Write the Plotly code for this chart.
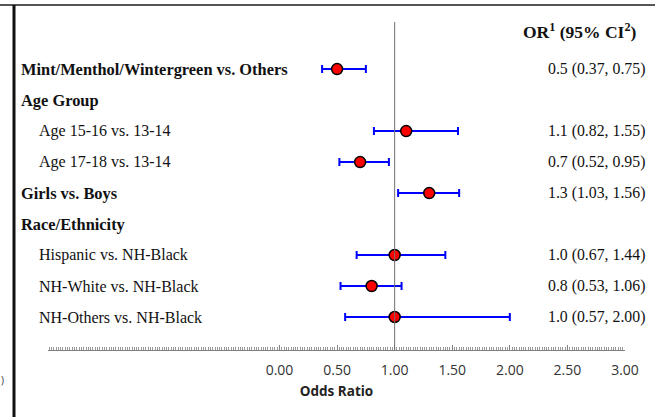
import plotly.graph_objects as go

# ---- data ----
row_labels = ["Mint/Menthol/Wintergreen vs. Others", "Age Group", "Age 15-16 vs. 13-14",
              "Age 17-18 vs. 13-14", "Girls vs. Boys", "Race/Ethnicity",
              "Hispanic vs. NH-Black", "NH-White vs. NH-Black", "NH-Others vs. NH-Black"]
row_bold = [True, True, False, False, True, True, False, False, False]
odds_ratio = [0.5, None, 1.1, 0.7, 1.3, None, 1.0, 0.8, 1.0]
ci_low = [0.37, None, 0.82, 0.52, 1.03, None, 0.67, 0.53, 0.57]
ci_high = [0.75, None, 1.55, 0.95, 1.56, None, 1.44, 1.06, 2.00]
or_text = ["0.5 (0.37, 0.75)", "", "1.1 (0.82, 1.55)", "0.7 (0.52, 0.95)", "1.3 (1.03, 1.56)",
           "", "1.0 (0.67, 1.44)", "0.8 (0.53, 1.06)", "1.0 (0.57, 2.00)"]
tick_vals = [0, 0.5, 1, 1.5, 2, 2.5, 3]
tick_text = ["0.00", "0.50", "1.00", "1.50", "2.00", "2.50", "3.00"]

W, H = 655, 417
ML, MR, MT, MB = 48, 30, 22, 67
PW, PH = W - ML - MR, H - MT - MB

def px_x(px):
    return (px - ML) / PW

def px_y(py):
    return (H - MB - py) / PH

idx = [i for i, v in enumerate(odds_ratio) if v is not None]
xs = [odds_ratio[i] for i in idx]
ys = [i for i in idx]
plus = [ci_high[i] - odds_ratio[i] for i in idx]
minus = [odds_ratio[i] - ci_low[i] for i in idx]

fig = go.Figure()
fig.add_trace(go.Scatter(
    x=xs, y=ys, mode="markers",
    marker=dict(color="#ff0000", size=11, line=dict(color="#000000", width=1.5)),
    error_x=dict(type="data", symmetric=False, array=plus, arrayminus=minus,
                 color="#0000ff", thickness=2, width=4),
    showlegend=False, hoverinfo="skip", cliponaxis=False,
))

serif = "Liberation Serif, Times New Roman, serif"
annotations = []
for i, lab in enumerate(row_labels):
    annotations.append(dict(
        xref="paper", yref="y", x=px_x(19 if row_bold[i] else 37), y=i,
        xanchor="left", yanchor="middle", showarrow=False,
        text=f"<b>{lab}</b>" if row_bold[i] else lab,
        font=dict(family=serif, size=16.4 if row_bold[i] else 16, color="#111111"),
    ))
    if or_text[i]:
        annotations.append(dict(
            xref="paper", yref="y", x=px_x(647), y=i,
            xanchor="right", yanchor="middle", showarrow=False,
            text=or_text[i], font=dict(family=serif, size=15.8, color="#111111"),
        ))
annotations.append(dict(
    xref="paper", yref="paper", x=px_x(639), y=px_y(31),
    xanchor="right", yanchor="middle", showarrow=False,
    text="<b>OR<sup>1</sup> (95% CI<sup>2</sup>)</b>",
    font=dict(family=serif, size=17.5, color="#111111"),
))
annotations.append(dict(
    xref="paper", yref="paper", x=px_x(-1), y=px_y(380),
    xanchor="left", yanchor="middle", showarrow=False,
    text=")", font=dict(family="Open Sans", size=10, color="#333333"),
))

shapes = [
    # reference line at OR = 1
    dict(type="line", xref="x", yref="paper", x0=1, x1=1, y0=0, y1=1,
         line=dict(color="#707070", width=1)),
    # top border
    dict(type="line", xref="paper", yref="paper", x0=px_x(0), x1=px_x(W), y0=px_y(5), y1=px_y(5),
         line=dict(color="#555555", width=2)),
    # left border
    dict(type="line", xref="paper", yref="paper", x0=px_x(14), x1=px_x(14), y0=px_y(5), y1=px_y(H),
         line=dict(color="#111111", width=3)),
]

fig.update_layout(
    width=W, height=H,
    margin=dict(l=ML, r=MR, t=MT, b=MB),
    paper_bgcolor="white", plot_bgcolor="white",
    annotations=annotations, shapes=shapes,
    xaxis=dict(
        range=[-2.01, 3.0], tickvals=tick_vals, ticktext=tick_text,
        showgrid=False, zeroline=False, showline=True, linecolor="#808080", linewidth=1,
        ticks="inside", ticklen=5, tickcolor="#808080",
        minor=dict(dtick=0.02, ticks="inside", ticklen=3, tickcolor="#999999", showgrid=False),
        tickfont=dict(family="Open Sans", size=14, color="#333333"),
        ticklabelstandoff=7,
        title=dict(text="<b>Odds Ratio</b>", font=dict(family="Open Sans", size=13.5, color="#222222"),
                   standoff=8),
        fixedrange=True,
    ),
    yaxis=dict(range=[(H - MB - 69) / 31.0, -1.52], visible=False, fixedrange=True),
)

fig.write_html("out.html", config={"displayModeBar": False},
               post_script="document.body.style.margin='0';")
